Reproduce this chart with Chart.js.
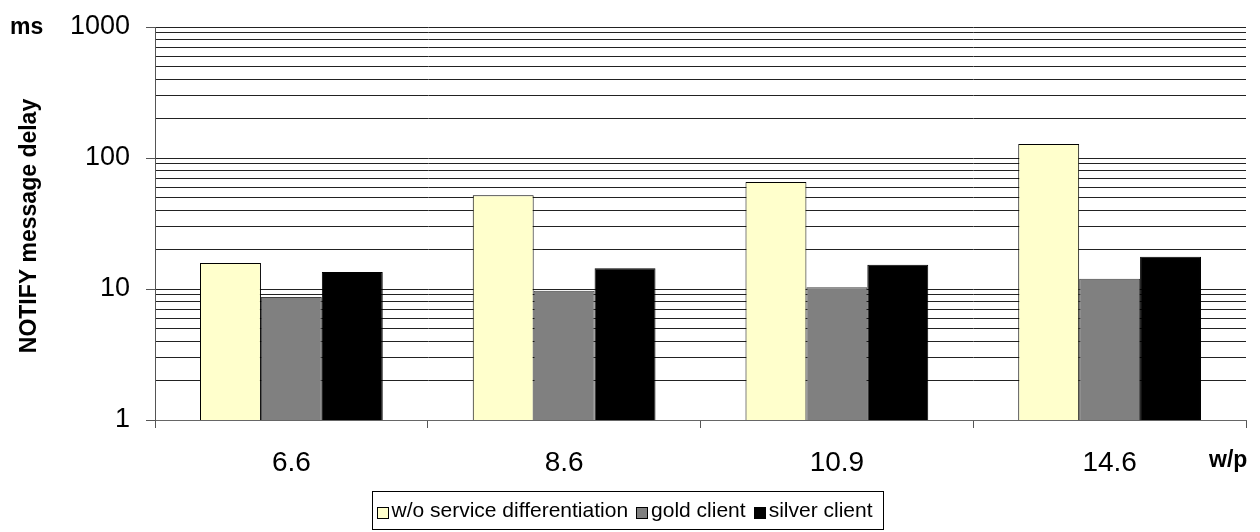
<!DOCTYPE html>
<html>
<head>
<meta charset="utf-8">
<script src="https://cdn.jsdelivr.net/npm/chart.js@4.4.1/dist/chart.umd.min.js"></script>
<style>
  html, body { margin: 0; padding: 0; background: #fff; }
  #wrap { width: 1260px; height: 532px; position: relative; }
</style>
</head>
<body>
<div id="wrap"><canvas id="c"></canvas></div>
<script>
// ---- data ----
const categories = ['6.6', '8.6', '10.9', '14.6'];
const seriesNames = ['w/o service differentiation', 'gold client', 'silver client'];
const woValues = [15.8, 51.9, 65.7, 128];
const goldValues = [8.7, 9.7, 10.3, 12.0];
const silverValues = [13.5, 14.4, 15.3, 17.6];
const yMajorTicks = [1, 10, 100, 1000];
const yTitle = 'NOTIFY message delay';
const yUnit = 'ms';
const xUnit = 'w/p';

const seriesColors = ['#FFFFCC', '#808080', '#000000'];
const seriesBorders = ['#000000', '#404040', '#000000'];

// all log gridline positions (1..9 times each decade)
const yAllTicks = [];
yMajorTicks.forEach((m, i) => {
  if (i === yMajorTicks.length - 1) { yAllTicks.push(m); return; }
  for (let k = 1; k <= 9; k++) yAllTicks.push(m * k);
});
const isMajor = v => yMajorTicks.includes(v);

const FONT = "'Liberation Sans', Arial, Helvetica, sans-serif";

const extras = {
  id: 'extras',
  afterDraw(chart) {
    const ctx = chart.ctx;
    ctx.save();
    ctx.fillStyle = '#000';
    // unit labels
    ctx.font = 'bold 23px ' + FONT;
    ctx.textBaseline = 'alphabetic';
    ctx.textAlign = 'left';
    ctx.fillText(yUnit, 10, 34);
    ctx.fillText(xUnit, 1209, 467);
    // y title
    ctx.save();
    ctx.translate(36, 226);
    ctx.rotate(-Math.PI / 2);
    ctx.textAlign = 'center';
    ctx.font = 'bold 23px ' + FONT;
    ctx.fillText(yTitle, 0, 0);
    ctx.restore();
    // legend
    const ds = chart.data.datasets;
    ctx.font = '21px ' + FONT;
    const sq = 11, gapSqText = 4, gapItems = 8, padL = 4, padR = 11;
    let total = padL + padR;
    ds.forEach((d, i) => {
      total += sq + gapSqText + ctx.measureText(d.label).width;
      if (i < ds.length - 1) total += gapItems;
    });
    const boxW = Math.round(total), boxH = 38;
    const boxX = 372.5, boxY = 491.5;
    ctx.strokeStyle = '#000';
    ctx.lineWidth = 1;
    ctx.strokeRect(boxX, boxY, boxW, boxH);
    let x = boxX + padL;
    const cy = boxY + boxH / 2;
    ds.forEach((d, i) => {
      const sx = Math.round(x) + 0.5, sy = Math.round(cy - sq / 2 + 2) + 0.5;
      ctx.fillStyle = d.backgroundColor;
      ctx.fillRect(sx, sy, sq, sq);
      ctx.strokeStyle = '#000';
      ctx.strokeRect(sx, sy, sq, sq);
      x += sq + gapSqText;
      ctx.fillStyle = '#000';
      ctx.textAlign = 'left';
      ctx.textBaseline = 'middle';
      ctx.fillText(d.label, x, cy + 1);
      x += ctx.measureText(d.label).width + gapItems;
    });
    ctx.restore();
  }
};

new Chart(document.getElementById('c'), {
  type: 'bar',
  data: {
    labels: categories,
    datasets: [woValues, goldValues, silverValues].map((vals, i) => ({
      label: seriesNames[i],
      data: vals,
      backgroundColor: seriesColors[i],
      borderColor: seriesBorders[i],
      borderWidth: 1,
      categoryPercentage: 0.67,
      barPercentage: 1.0
    }))
  },
  options: {
    responsive: true,
    maintainAspectRatio: false,
    animation: false,
    layout: { padding: { top: 27, right: 14, left: 0, bottom: 0 } },
    plugins: { legend: { display: false }, tooltip: { enabled: false } },
    scales: {
      x: {
        grid: { display: true, offset: true, drawOnChartArea: false, tickLength: 8, tickColor: '#555' },
        border: { color: '#666', width: 1 },
        ticks: { color: '#000', font: { family: FONT, size: 28 }, padding: 18 },
        afterFit(scale) { scale.height = 112; }
      },
      y: {
        type: 'logarithmic',
        min: 1,
        max: 1000,
        afterBuildTicks(scale) { scale.ticks = yAllTicks.map(v => ({ value: v, major: isMajor(v) })); },
        ticks: {
          autoSkip: false,
          color: '#000',
          font: { family: FONT, size: 27 },
          padding: 16,
          callback: v => (isMajor(v) ? String(v) : '')
        },
        grid: {
          color: '#222',
          lineWidth: 1,
          tickLength: 9,
          tickColor: c => (c.tick && isMajor(c.tick.value) ? '#555' : 'rgba(0,0,0,0)')
        },
        border: { color: '#555', width: 1 },
        afterFit(scale) { scale.width = 155; scale.paddingTop = 0; scale.paddingBottom = 0; }
      }
    }
  },
  plugins: [extras]
});
</script>
</body>
</html>
